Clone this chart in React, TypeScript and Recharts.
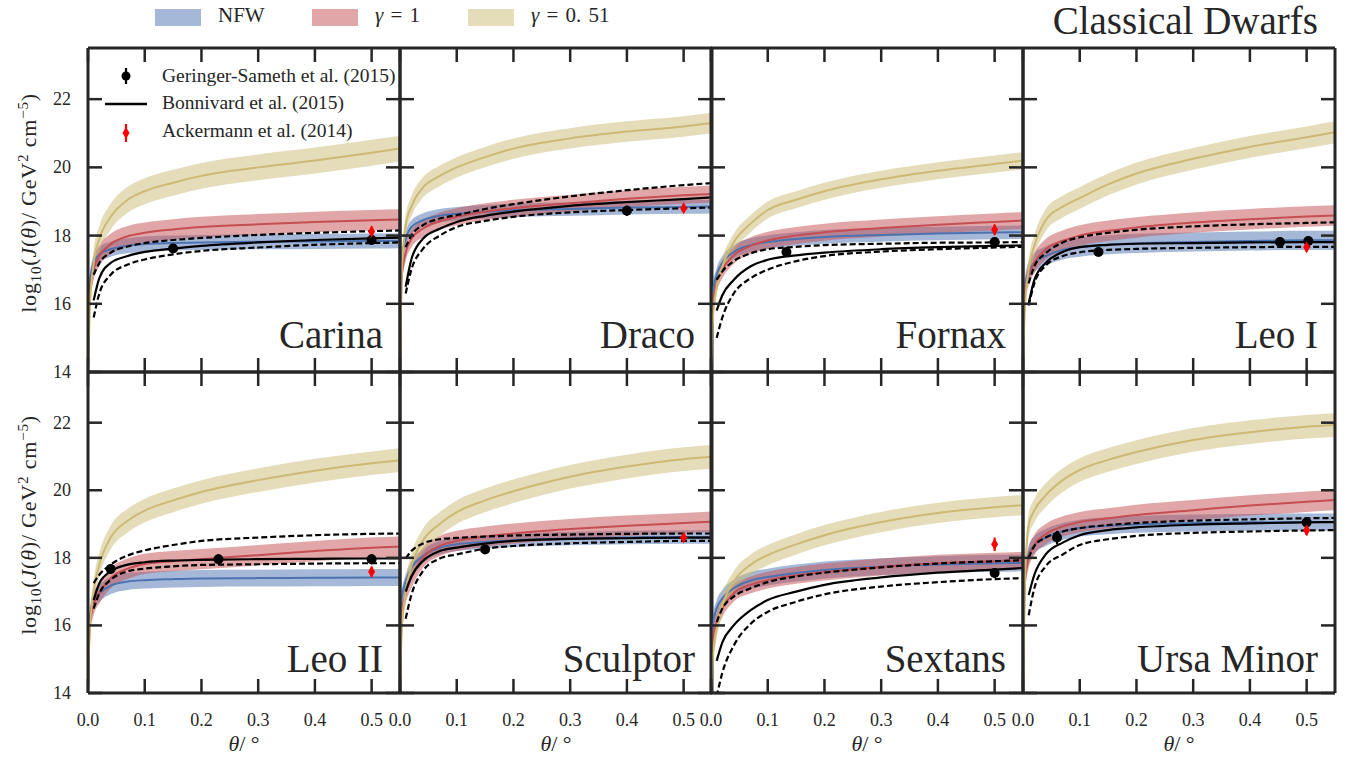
import React from "react";
import { ComposedChart, Area, Line, Scatter, ErrorBar, XAxis, YAxis } from "recharts";

// sampled angles (deg) shared by every panel
const THETA = [0, 0.003, 0.01, 0.02, 0.04, 0.07, 0.1, 0.15, 0.2, 0.3, 0.4, 0.5, 0.55];
const X_TICKS = [0, 0.1, 0.2, 0.3, 0.4, 0.5];
const Y_TICKS = [14, 16, 18, 20, 22];

// Carina
const carinaNfw = [14, 16.6, 17.2, 17.45, 17.6, 17.7, 17.75, 17.78, 17.8, 17.82, 17.83, 17.84, 17.85];
const carinaG1 = [14, 16.3, 17.0, 17.4, 17.75, 17.98, 18.08, 18.18, 18.25, 18.33, 18.4, 18.45, 18.47];
const carinaG051 = [14, 15.8, 17.2, 17.9, 18.55, 19.05, 19.3, 19.55, 19.75, 20.0, 20.2, 20.43, 20.55];
const carinaBon = [null, null, 16.1, 16.75, 17.2, 17.4, 17.52, 17.62, 17.7, 17.8, 17.87, 17.92, 17.94];
const carinaBonHi = [null, null, 16.85, 17.2, 17.5, 17.68, 17.78, 17.87, 17.93, 18.02, 18.08, 18.13, 18.15];
const carinaBonLo = [null, null, 15.6, 16.3, 16.85, 17.15, 17.3, 17.45, 17.55, 17.65, 17.73, 17.78, 17.8];
const carinaWidth = [0.22, 0.3, 0.38];
const carinaGS = [[0.15, 17.62, 0.1], [0.5, 17.87, 0.12]];
const carinaAck = [[0.5, 18.12, 0.15]];

// Draco
const dracoNfw = [14, 17.3, 17.9, 18.25, 18.45, 18.58, 18.64, 18.7, 18.74, 18.78, 18.82, 18.84, 18.85];
const dracoG1 = [14, 16.8, 17.5, 17.9, 18.2, 18.42, 18.55, 18.7, 18.8, 18.95, 19.08, 19.18, 19.22];
const dracoG051 = [14, 16.8, 18.3, 18.85, 19.4, 19.75, 20.0, 20.3, 20.55, 20.85, 21.05, 21.2, 21.3];
const dracoBon = [null, null, 16.5, 17.3, 17.9, 18.2, 18.4, 18.58, 18.7, 18.87, 18.98, 19.07, 19.12];
const dracoBonHi = [null, null, 17.66, 18.0, 18.3, 18.5, 18.6, 18.78, 18.92, 19.15, 19.33, 19.48, 19.54];
const dracoBonLo = [null, null, 16.3, 17.0, 17.6, 18.0, 18.25, 18.43, 18.55, 18.68, 18.75, 18.8, 18.82];
const dracoWidth = [0.2, 0.25, 0.3];
const dracoGS = [[0.4, 18.73, 0.15]];
const dracoAck = [[0.5, 18.8, 0.1]];

// Fornax
const fornaxNfw = [14, 16.3, 16.85, 17.2, 17.52, 17.72, 17.81, 17.9, 17.96, 18.02, 18.06, 18.09, 18.1];
const fornaxG1 = [14, 16.0, 16.6, 17.0, 17.42, 17.7, 17.86, 18.0, 18.1, 18.22, 18.32, 18.4, 18.44];
const fornaxG051 = [14, 15.5, 16.5, 17.1, 17.8, 18.35, 18.75, 19.05, 19.3, 19.65, 19.9, 20.1, 20.2];
const fornaxBon = [null, null, 15.8, 16.25, 16.7, 17.1, 17.29, 17.42, 17.5, 17.6, 17.66, 17.7, 17.71];
const fornaxBonHi = [null, null, 16.7, 16.95, 17.25, 17.48, 17.6, 17.67, 17.72, 17.76, 17.79, 17.8, 17.81];
const fornaxBonLo = [null, null, 15.0, 15.6, 16.3, 16.75, 17.0, 17.25, 17.4, 17.53, 17.6, 17.65, 17.67];
const fornaxWidth = [0.2, 0.25, 0.25];
const fornaxGS = [[0.133, 17.52, 0.08], [0.5, 17.81, 0.08]];
const fornaxAck = [[0.5, 18.17, 0.15]];

// Leo I
const leo1Nfw = [14, 16.4, 16.95, 17.2, 17.4, 17.58, 17.66, 17.73, 17.77, 17.81, 17.84, 17.86, 17.86];
const leo1G1 = [14, 16.3, 16.85, 17.2, 17.6, 17.85, 18.0, 18.14, 18.24, 18.38, 18.48, 18.56, 18.59];
const leo1G051 = [14, 15.8, 17.0, 17.7, 18.45, 18.85, 19.1, 19.5, 19.82, 20.25, 20.6, 20.88, 21.03];
const leo1Bon = [null, null, 16.0, 16.7, 17.2, 17.52, 17.66, 17.73, 17.76, 17.78, 17.8, 17.81, 17.81];
const leo1BonHi = [null, null, 16.6, 17.1, 17.48, 17.8, 17.95, 18.08, 18.17, 18.27, 18.33, 18.37, 18.39];
const leo1BonLo = [null, null, 15.95, 16.6, 17.12, 17.4, 17.51, 17.58, 17.61, 17.64, 17.66, 17.67, 17.67];
const leo1Width = [0.28, 0.3, 0.32];
const leo1GS = [[0.133, 17.52, 0.1], [0.453, 17.81, 0.12], [0.503, 17.84, 0.1]];
const leo1Ack = [[0.5, 17.66, 0.12]];

// Leo II
const leo2Nfw = [14, 16.2, 16.75, 16.95, 17.18, 17.3, 17.34, 17.37, 17.39, 17.4, 17.41, 17.42, 17.42];
const leo2G1 = [14, 16.0, 16.6, 16.95, 17.4, 17.68, 17.82, 17.9, 17.96, 18.08, 18.2, 18.3, 18.33];
const leo2G051 = [14, 15.8, 17.0, 17.8, 18.6, 19.1, 19.4, 19.7, 19.95, 20.3, 20.58, 20.8, 20.89];
const leo2Bon = [null, null, 16.75, 17.25, 17.6, 17.8, 17.87, 17.92, 17.94, 17.96, 17.97, 17.98, 17.98];
const leo2BonHi = [null, null, 17.25, 17.5, 17.8, 18.07, 18.22, 18.38, 18.5, 18.6, 18.67, 18.71, 18.72];
const leo2BonLo = [null, null, 16.5, 16.95, 17.35, 17.6, 17.68, 17.75, 17.79, 17.81, 17.83, 17.84, 17.84];
const leo2Width = [0.25, 0.3, 0.35];
const leo2GS = [[0.04, 17.67, 0.15], [0.23, 17.96, 0.15], [0.5, 17.96, 0.15]];
const leo2Ack = [[0.5, 17.59, 0.15]];

// Sculptor
const sculptorNfw = [14, 16.8, 17.3, 17.7, 18.05, 18.3, 18.4, 18.47, 18.52, 18.57, 18.6, 18.62, 18.62];
const sculptorG1 = [14, 16.3, 16.95, 17.4, 18.0, 18.35, 18.5, 18.63, 18.72, 18.85, 18.95, 19.03, 19.07];
const sculptorG051 = [14, 15.8, 17.0, 17.75, 18.5, 19.0, 19.35, 19.7, 19.97, 20.4, 20.7, 20.92, 20.99];
const sculptorBon = [null, null, 17.0, 17.45, 17.9, 18.2, 18.3, 18.42, 18.5, 18.56, 18.58, 18.6, 18.6];
const sculptorBonHi = [null, null, 17.98, 18.2, 18.42, 18.55, 18.59, 18.63, 18.66, 18.69, 18.71, 18.72, 18.72];
const sculptorBonLo = [null, null, 16.2, 16.9, 17.6, 17.98, 18.1, 18.27, 18.35, 18.43, 18.47, 18.5, 18.5];
const sculptorWidth = [0.2, 0.3, 0.35];
const sculptorGS = [[0.15, 18.25, 0.1]];
const sculptorAck = [[0.5, 18.6, 0.12]];

// Sextans
const sextansNfw = [14, 16.0, 16.5, 16.8, 17.1, 17.33, 17.43, 17.55, 17.64, 17.74, 17.8, 17.84, 17.85];
const sextansG1 = [14, 15.6, 16.1, 16.5, 16.95, 17.2, 17.34, 17.48, 17.58, 17.73, 17.84, 17.9, 17.93];
const sextansG051 = [14, 15.0, 15.9, 16.6, 17.3, 17.8, 18.08, 18.4, 18.67, 19.06, 19.33, 19.5, 19.56];
const sextansBon = [null, null, 14.95, 15.5, 16.0, 16.45, 16.75, 17.0, 17.2, 17.42, 17.56, 17.65, 17.7];
const sextansBonHi = [null, null, 16.1, 16.5, 16.85, 17.1, 17.28, 17.45, 17.56, 17.72, 17.83, 17.9, 17.93];
const sextansBonLo = [null, null, 13.9, 14.6, 15.4, 16.05, 16.4, 16.7, 16.92, 17.15, 17.28, 17.37, 17.4];
const sextansWidth = [0.25, 0.25, 0.3];
const sextansGS = [[0.5, 17.55, 0.15]];
const sextansAck = [[0.5, 18.4, 0.2]];

// Ursa Minor
const umiNfw = [14, 17.4, 18.1, 18.38, 18.6, 18.78, 18.88, 18.95, 18.99, 19.03, 19.05, 19.06, 19.06];
const umiG1 = [14, 17.2, 18.0, 18.38, 18.7, 18.93, 19.06, 19.17, 19.27, 19.41, 19.55, 19.66, 19.71];
const umiG051 = [14, 17.0, 18.97, 19.4, 19.85, 20.3, 20.6, 20.9, 21.13, 21.49, 21.72, 21.88, 21.93];
const umiBon = [null, null, 16.9, 17.5, 18.1, 18.45, 18.67, 18.82, 18.9, 18.98, 19.02, 19.05, 19.06];
const umiBonHi = [null, null, 18.0, 18.35, 18.6, 18.78, 18.88, 18.97, 19.03, 19.1, 19.14, 19.17, 19.18];
const umiBonLo = [null, null, 16.3, 17.1, 17.75, 18.1, 18.38, 18.55, 18.65, 18.74, 18.78, 18.81, 18.82];
const umiWidth = [0.25, 0.3, 0.35];
const umiGS = [[0.06, 18.6, 0.2], [0.5, 19.05, 0.1]];
const umiAck = [[0.5, 18.82, 0.15]];

const PANELS = [
    { name: "Carina", nfw: carinaNfw, g1: carinaG1, g051: carinaG051, bon: carinaBon, hi: carinaBonHi, lo: carinaBonLo, w: carinaWidth, gs: carinaGS, ack: carinaAck },
    { name: "Draco", nfw: dracoNfw, g1: dracoG1, g051: dracoG051, bon: dracoBon, hi: dracoBonHi, lo: dracoBonLo, w: dracoWidth, gs: dracoGS, ack: dracoAck },
    { name: "Fornax", nfw: fornaxNfw, g1: fornaxG1, g051: fornaxG051, bon: fornaxBon, hi: fornaxBonHi, lo: fornaxBonLo, w: fornaxWidth, gs: fornaxGS, ack: fornaxAck },
    { name: "Leo I", nfw: leo1Nfw, g1: leo1G1, g051: leo1G051, bon: leo1Bon, hi: leo1BonHi, lo: leo1BonLo, w: leo1Width, gs: leo1GS, ack: leo1Ack },
    { name: "Leo II", nfw: leo2Nfw, g1: leo2G1, g051: leo2G051, bon: leo2Bon, hi: leo2BonHi, lo: leo2BonLo, w: leo2Width, gs: leo2GS, ack: leo2Ack },
    { name: "Sculptor", nfw: sculptorNfw, g1: sculptorG1, g051: sculptorG051, bon: sculptorBon, hi: sculptorBonHi, lo: sculptorBonLo, w: sculptorWidth, gs: sculptorGS, ack: sculptorAck },
    { name: "Sextans", nfw: sextansNfw, g1: sextansG1, g051: sextansG051, bon: sextansBon, hi: sextansBonHi, lo: sextansBonLo, w: sextansWidth, gs: sextansGS, ack: sextansAck },
    { name: "Ursa Minor", nfw: umiNfw, g1: umiG1, g051: umiG051, bon: umiBon, hi: umiBonHi, lo: umiBonLo, w: umiWidth, gs: umiGS, ack: umiAck },
];

const BLUE = "#4c72b0";
const RED = "#c44e52";
const GOLD = "#ccb974";
const FRAME = "#262626";
const SERIF = "'Liberation Serif', 'DejaVu Serif', serif";

const PX = [88, 400, 711, 1023];
const PY = [48, 372];
const PW = 312;
const PH = [324, 321];
// chart margin outside the 1px axis bands
const M = { top: 19, right: 19, bottom: 49, left: 74 };
const AXIS = { stroke: FRAME, strokeWidth: 3 };

function XTick({ x, y, payload, dir, label }: any) {
    return (
        <g>
            <line x1={x} x2={x} y1={y} y2={y + dir * 14} stroke={FRAME} strokeWidth={2.5} />
            {label && (
                <text x={x} y={y + 33} textAnchor="middle" fontFamily={SERIF} fontSize={18} fill={FRAME}>
                    {Number(payload.value).toFixed(1)}
                </text>
            )}
        </g>
    );
}

function YTick({ x, y, payload, dir, label }: any) {
    return (
        <g>
            <line x1={x} x2={x + dir * 14} y1={y} y2={y} stroke={FRAME} strokeWidth={2.5} />
            {label && (
                <text x={x - 17} y={y + 6} textAnchor="end" fontFamily={SERIF} fontSize={18} fill={FRAME}>
                    {payload.value}
                </text>
            )}
        </g>
    );
}

const dot = (p: any) => <circle cx={p.cx} cy={p.cy} r={5} fill="#000" />;
const diamond = (p: any) => (
    <polygon
        points={`${p.cx},${p.cy - 6} ${p.cx + 3.5},${p.cy} ${p.cx},${p.cy + 6} ${p.cx - 3.5},${p.cy}`}
        fill="#ff0000"
    />
);

function Panel({ p, col, row }: any) {
    const data = THETA.map((t, i) => ({
        t,
        nfw: [p.nfw[i] - p.w[0], p.nfw[i] + p.w[0]],
        nfwC: p.nfw[i],
        g1: [p.g1[i] - p.w[1], p.g1[i] + p.w[1]],
        g1C: p.g1[i],
        g051: [p.g051[i] - p.w[2], p.g051[i] + p.w[2]],
        g051C: p.g051[i],
        bon: p.bon[i],
        hi: p.hi[i],
        lo: p.lo[i],
    }));
    const gs = p.gs.map(([t, v, e]: number[]) => ({ t, v, e }));
    const ack = p.ack.map(([t, v, e]: number[]) => ({ t, v, e }));
    const showY = col === 0;
    const showX = row === 1;
    const ax = { xAxisId: "b", yAxisId: "l", isAnimationActive: false };
    return (
        <div style={{ position: "absolute", left: PX[col] - M.left - 1, top: PY[row] - M.top - 1 }}>
            <ComposedChart width={PW + M.left + M.right + 2} height={PH[row] + M.top + M.bottom + 2} data={data} margin={M}>
                <XAxis xAxisId="b" dataKey="t" type="number" domain={[0, 0.55]} ticks={X_TICKS} interval={0}
                    allowDataOverflow orientation="bottom" height={1} tickSize={0} tickMargin={0}
                    axisLine={AXIS} tickLine={false} tick={(tp: any) => <XTick {...tp} dir={-1} label={showX} />} />
                <XAxis xAxisId="t" dataKey="t" type="number" domain={[0, 0.55]} ticks={X_TICKS} interval={0}
                    allowDataOverflow orientation="top" height={1} tickSize={0} tickMargin={0}
                    axisLine={AXIS} tickLine={false} tick={(tp: any) => <XTick {...tp} dir={1} label={false} />} />
                <YAxis yAxisId="l" type="number" domain={[14, 23.5]} ticks={Y_TICKS} interval={0}
                    allowDataOverflow orientation="left" width={1} tickSize={0} tickMargin={0}
                    axisLine={AXIS} tickLine={false} tick={(tp: any) => <YTick {...tp} dir={1} label={showY} />} />
                <YAxis yAxisId="r" type="number" domain={[14, 23.5]} ticks={Y_TICKS} interval={0}
                    allowDataOverflow orientation="right" width={1} tickSize={0} tickMargin={0}
                    axisLine={AXIS} tickLine={false} tick={(tp: any) => <YTick {...tp} dir={-1} label={false} />} />

                <Area {...ax} type="monotone" dataKey="nfw" stroke="none" fill={BLUE} fillOpacity={0.5} />
                <Line {...ax} type="monotone" dataKey="nfwC" stroke={BLUE} strokeWidth={2} dot={false} activeDot={false} />
                <Area {...ax} type="monotone" dataKey="g1" stroke="none" fill={RED} fillOpacity={0.5} />
                <Line {...ax} type="monotone" dataKey="g1C" stroke={RED} strokeWidth={2} dot={false} activeDot={false} />
                <Area {...ax} type="monotone" dataKey="g051" stroke="none" fill={GOLD} fillOpacity={0.5} />
                <Line {...ax} type="monotone" dataKey="g051C" stroke={GOLD} strokeWidth={2} dot={false} activeDot={false} />

                <Line {...ax} type="monotone" dataKey="bon" stroke="#000" strokeWidth={2.2} dot={false} activeDot={false} />
                <Line {...ax} type="monotone" dataKey="hi" stroke="#000" strokeWidth={2.2} strokeDasharray="6 3" dot={false} activeDot={false} />
                <Line {...ax} type="monotone" dataKey="lo" stroke="#000" strokeWidth={2.2} strokeDasharray="6 3" dot={false} activeDot={false} />

                <Scatter {...ax} data={gs} dataKey="v" shape={dot}>
                    <ErrorBar dataKey="e" direction="y" width={0} stroke="#000" strokeWidth={2.2} />
                </Scatter>
                <Scatter {...ax} data={ack} dataKey="v" shape={diamond}>
                    <ErrorBar dataKey="e" direction="y" width={0} stroke="#ff0000" strokeWidth={2.2} />
                </Scatter>
            </ComposedChart>
            <div style={{
                position: "absolute", left: M.left + 1, top: M.top + 1 + 267, width: 295, textAlign: "right",
                fontFamily: SERIF, fontSize: 39, lineHeight: "39px", color: FRAME, whiteSpace: "nowrap",
            }}>{p.name}</div>
        </div>
    );
}

function YLabel({ cy }: { cy: number }) {
    const small = { fontSize: 15 };
    return (
        <div style={{
            position: "absolute", left: 30, top: cy, transform: "translate(-50%, -50%) rotate(-90deg)",
            whiteSpace: "nowrap", fontFamily: SERIF, fontSize: 22, letterSpacing: 0.8, color: FRAME,
        }}>
            log<sub style={small}>10</sub>(<i>J</i>(<i>θ</i>)/ GeV<sup style={small}>2</sup> cm<sup style={small}>−5</sup>)
        </div>
    );
}

function Patch({ left, color, text }: any) {
    return (
        <>
            <div style={{ position: "absolute", left, top: 9, width: 46, height: 17, background: color, opacity: 0.5 }} />
            <div style={{ position: "absolute", left: left + 63, top: 5, fontFamily: SERIF, fontSize: 21, lineHeight: "21px", color: FRAME, whiteSpace: "nowrap", wordSpacing: 2 }}>{text}</div>
        </>
    );
}

export default function App() {
    const legendText = { position: "absolute" as const, left: 162, fontFamily: SERIF, fontSize: 19.5, lineHeight: "20px", color: FRAME, whiteSpace: "nowrap" as const };
    return (
        <div style={{ position: "absolute", left: 0, top: 0, width: 1347, height: 768, background: "#fff", overflow: "hidden" }}>
            {PANELS.map((p, i) => (
                <Panel key={p.name} p={p} col={i % 4} row={Math.floor(i / 4)} />
            ))}
            <YLabel cy={203} />
            <YLabel cy={525} />
            {PX.map((x) => (
                <div key={x} style={{ position: "absolute", left: x + 156, top: 731, transform: "translateX(-50%)", fontFamily: SERIF, fontSize: 22, color: FRAME, whiteSpace: "nowrap" }}>
                    <i>θ</i>/ °
                </div>
            ))}
            <Patch left={155} color={BLUE} text="NFW" />
            <Patch left={312} color={RED} text={<span><i>γ</i> = 1</span>} />
            <Patch left={468} color={GOLD} text={<span><i>γ</i> = 0. 51</span>} />
            <div style={{ position: "absolute", right: 29, top: 1, fontFamily: SERIF, fontSize: 39, lineHeight: "39px", color: FRAME, whiteSpace: "nowrap" }}>
                Classical Dwarfs
            </div>
            <svg style={{ position: "absolute", left: 100, top: 60 }} width={50} height={90}>
                <line x1={26} x2={26} y1={8} y2={24} stroke="#000" strokeWidth={2.2} />
                <circle cx={26} cy={16} r={4.5} fill="#000" />
                <line x1={5} x2={47} y1={44} y2={44} stroke="#000" strokeWidth={2.5} />
                <line x1={26} x2={26} y1={64} y2={82} stroke="#ff0000" strokeWidth={2.2} />
                <polygon points="26,67 29.5,73 26,79 22.5,73" fill="#ff0000" />
            </svg>
            <div style={{ ...legendText, top: 66 }}>Geringer-Sameth et al. (2015)</div>
            <div style={{ ...legendText, top: 93 }}>Bonnivard et al. (2015)</div>
            <div style={{ ...legendText, top: 121 }}>Ackermann et al. (2014)</div>
        </div>
    );
}
